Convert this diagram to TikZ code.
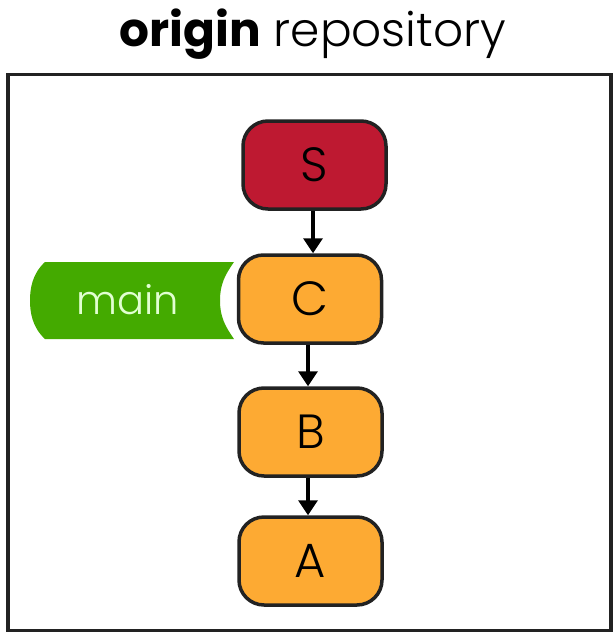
\documentclass[tikz,border=0pt]{standalone}
\usepackage{fontspec}
\setmainfont{Poppins}
\newfontfamily\lightfont{Poppins Light}
\usetikzlibrary{arrows.meta}
\definecolor{frame}{HTML}{222222}
\definecolor{sred}{HTML}{BE1931}
\definecolor{corange}{HTML}{FDAA33}
\definecolor{tgreen}{HTML}{44AA00}
\definecolor{tlight}{HTML}{E2FFD2}
\tikzset{
  commit/.style={draw=frame, line width=3.5pt, rounded corners=25pt, minimum width=143pt, minimum height=88pt, inner sep=0pt, font=\lightfont\fontsize{48}{48}\selectfont},
  arr/.style={draw=black, line width=3.5pt, -{Triangle[width=19pt,length=15pt]}},
}
\begin{document}
\begin{tikzpicture}[x=1pt,y=-1pt]
\useasboundingbox (0,0) rectangle (616,635);
\node[font=\fontsize{47}{47}\selectfont] (title) at (313,34) {\textbf{origin} {\lightfont repository}};
\node[draw=frame, line width=3.5pt, minimum width=603pt, minimum height=556pt, inner sep=0pt] (box) at (309.5,352.5) {};
\node[commit, fill=sred] (S) at (314.5,165) {S};
\node[commit, fill=corange] (C) at (310,299) {C};
\node[commit, fill=corange] (B) at (310.5,432) {B};
\node[commit, fill=corange] (A) at (310.5,561) {A};
\fill[tgreen] (45,262) -- (234,262) to[out=235,in=90] (220,300.5) to[out=-90,in=125] (234,339) -- (45,339) .. controls (32,327) and (30,312) .. (30,300.5) .. controls (30,289) and (32,274) .. (45,262) -- cycle;
\node[text=tlight, font=\lightfont\fontsize{40}{40}\selectfont] (main) at (128,300) {main};
\draw[arr] ([xshift=-1.5pt]S.south) -- ([xshift=-1.5pt]S.south |- C.north);
\draw[arr] ([xshift=-2pt]C.south) -- ([xshift=-2pt]C.south |- B.north);
\draw[arr] ([xshift=-2.5pt]B.south) -- ([xshift=-2.5pt]B.south |- A.north);
\end{tikzpicture}
\end{document}
